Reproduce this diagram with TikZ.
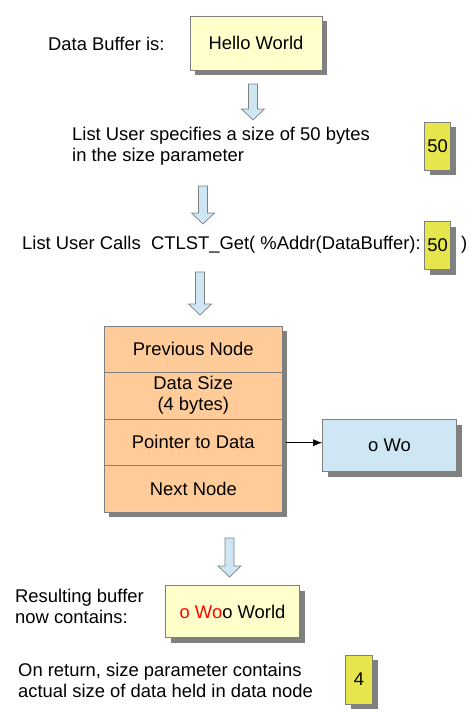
\documentclass[tikz,border=0pt]{standalone}
\usepackage{fontspec}
\setmainfont{Liberation Sans}
\usetikzlibrary{shadows,arrows.meta,calc}
\definecolor{lightyellow}{HTML}{FFFFCC}
\definecolor{darkyellow}{HTML}{E6E64C}
\definecolor{peach}{HTML}{FFCC99}
\definecolor{paleblue}{HTML}{CFE7F5}
\definecolor{shadowgray}{HTML}{808080}
\definecolor{edgegray}{HTML}{7F7F7F}
\tikzset{
  boxbase/.style={draw=edgegray, line width=0.8pt, inner sep=0pt,
    drop shadow={shadow xshift=5pt, shadow yshift=-5pt, fill=shadowgray, opacity=1}},
  bufbox/.style={boxbase, fill=lightyellow, minimum width=132pt, minimum height=54pt},
  numbox/.style={boxbase, fill=darkyellow, minimum width=26pt, minimum height=48pt},
  rowbox/.style={boxbase, fill=peach, minimum width=178pt, minimum height=46.5pt, align=center},
  databox/.style={boxbase, fill=paleblue, minimum width=134pt, minimum height=52pt},
  txt/.style={anchor=west, align=left, inner sep=0pt},
  bigarrow/.style={draw=edgegray, line width=0.7pt, fill=paleblue, line join=miter},
  ptr/.style={-{Latex[length=9pt,width=7pt]}, line width=0.6pt}
}
\newcommand{\blockarrow}[3]{% x, ytop, ytip
  \draw[bigarrow] (#1-4.5,#2) -- (#1+4.5,#2) -- (#1+4.5,#3-11) -- (#1+11.5,#3-11)
    -- (#1,#3) -- (#1-11.5,#3-11) -- (#1-4.5,#3-11) -- cycle;}
\begin{document}
\begin{tikzpicture}[x=1pt,y=-1pt,font=\fontsize{18.4}{21}\selectfont]
\useasboundingbox (0,0) rectangle (472,720);
% top
\node[txt] (lbl1) at (48,44) {Data Buffer is:};
\node[bufbox] (hello) at (256,43) {Hello World};
\blockarrow{253}{84}{120}
% step 2
\node[txt] (lbl2) at (72,146) {List User specifies a size of 50 bytes\\in the size parameter};
\node[numbox] (n50a) at (437.5,146) {50};
\blockarrow{203}{186}{224}
% step 3
\node[txt] (lbl3) at (22,245) {List User Calls\ \ CTLST\_Get( \%Addr(DataBuffer):};
\node[numbox] (n50b) at (437.5,245.5) {50};
\node[txt] (paren) at (461,245) {)};
\blockarrow{200}{272}{315}
% list node
\node[rowbox] (prev) at (193.3,349.2) {Previous Node};
\node[rowbox] (dsize) at (193.3,395.7) {Data Size\\(4 bytes)};
\node[rowbox] (pdata) at (193.3,442.2) {Pointer to Data};
\node[rowbox] (next) at (193.3,488.7) {Next Node};
\node[databox] (owo) at (389.5,445.5) {o Wo};
\coordinate (pstart) at ($(pdata.east)+(3,0.5)$);
\draw[ptr] (pstart) -- (owo.west|-pstart);
\blockarrow{229.5}{538}{577}
% result
\node[txt] (lbl4) at (15,606) {Resulting buffer\\now contains:};
\node[bufbox, minimum width=134pt, minimum height=52pt] (result) at (232.5,611.5) {\textcolor{red}{o Wo}o World};
\node[txt] (lbl5) at (18,680) {On return, size parameter contains\\actual size of data held in data node};
\node[numbox, minimum width=27pt, minimum height=49pt] (n4) at (359,679.5) {4};
\end{tikzpicture}
\end{document}
